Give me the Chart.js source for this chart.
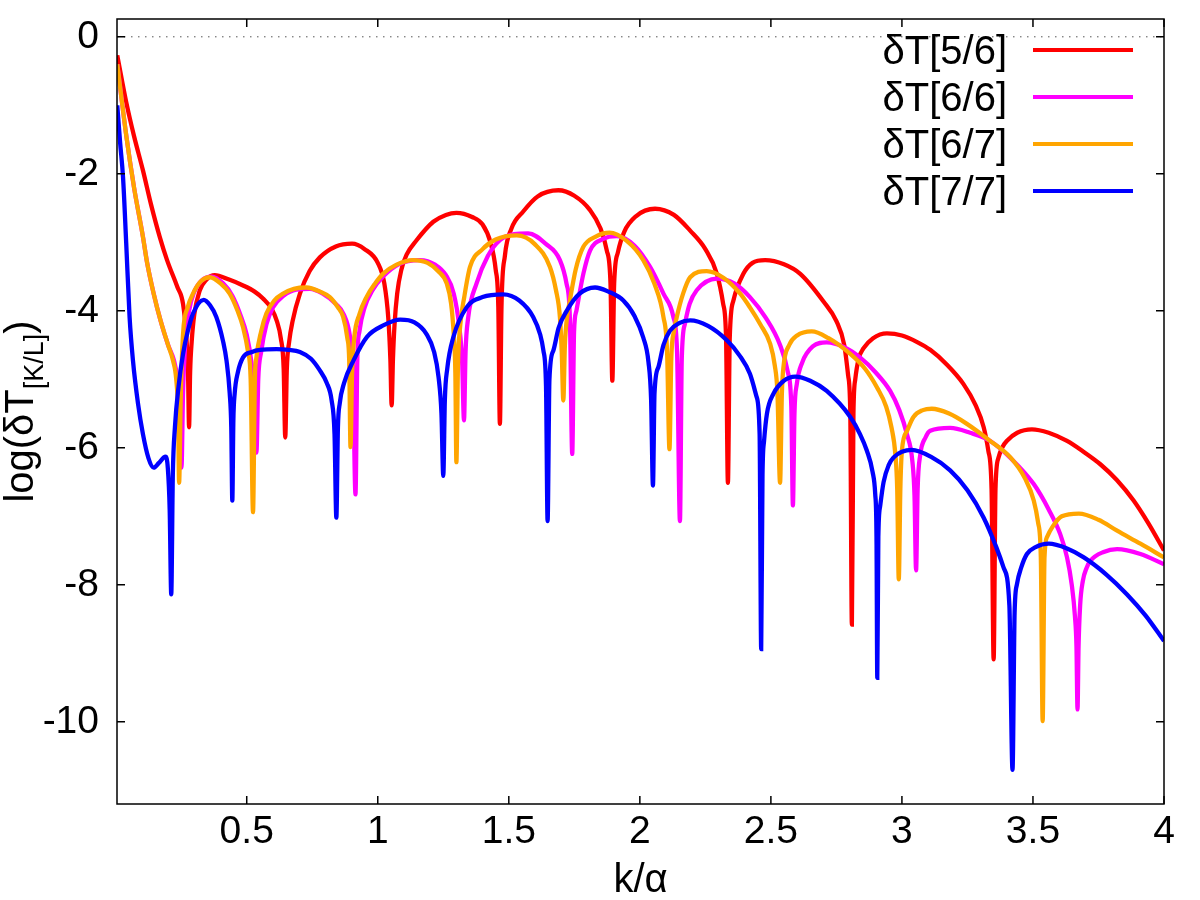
<!DOCTYPE html>
<html lang="en">

<head>
    <meta charset="UTF-8">
    <title>log(dT) vs k/alpha</title>
    <script src="https://cdn.jsdelivr.net/npm/chart.js"></script>
    <style>
        body { margin: 0; background: #fff; }
    </style>
</head>

<body>
    <canvas id="myChart" width="1200" height="900"></canvas>
<script>
    // values, [k/alpha, log(dT)]
    const xTicks = [0.5, 1, 1.5, 2, 2.5, 3, 3.5, 4];
    const yTicks = [0, -2, -4, -6, -8, -10];
    const seriesNames = ['δT[5/6]', 'δT[6/6]', 'δT[6/7]', 'δT[7/7]'];
    const seriesColors = ['#ff0000', '#ff00ff', '#ffa500', '#0000ff'];

    const dT56 = [
        [0.006, -0.27], [0.04, -0.95], [0.07, -1.45], [0.104, -1.95], [0.135, -2.45], [0.168, -2.92],
        [0.196, -3.26], [0.235, -3.65], [0.257, -3.9], [0.27, -4.4], [0.276, -4.9], [0.28, -5.7],
        [0.284, -4.9], [0.29, -4.45], [0.3, -4.05], [0.321, -3.7], [0.345, -3.55], [0.378, -3.48],
        [0.43, -3.54], [0.486, -3.63], [0.53, -3.72], [0.562, -3.82], [0.595, -3.97], [0.614, -4.14],
        [0.63, -4.4], [0.641, -4.85], [0.647, -5.85], [0.653, -4.85], [0.662, -4.45], [0.675, -4.15],
        [0.703, -3.75], [0.74, -3.42], [0.779, -3.22], [0.84, -3.06], [0.902, -3.02], [0.95, -3.1],
        [1.0, -3.3], [1.025, -3.6], [1.04, -4.1], [1.048, -4.7], [1.053, -5.38], [1.058, -4.7],
        [1.064, -4.2], [1.074, -3.75], [1.09, -3.4], [1.11, -3.18], [1.148, -2.97], [1.212, -2.7],
        [1.26, -2.6], [1.3, -2.57], [1.36, -2.63], [1.4, -2.74], [1.43, -3.0], [1.45, -3.4],
        [1.46, -3.95], [1.466, -5.65], [1.472, -3.95], [1.485, -3.2], [1.51, -2.8], [1.555, -2.55],
        [1.61, -2.33], [1.689, -2.24], [1.75, -2.32], [1.81, -2.53], [1.85, -2.8], [1.874, -3.12],
        [1.888, -3.6], [1.895, -5.02], [1.902, -3.6], [1.916, -3.15], [1.94, -2.85], [1.985, -2.62],
        [2.058, -2.51], [2.13, -2.6], [2.192, -2.83], [2.25, -3.1], [2.294, -3.46], [2.318, -3.9],
        [2.329, -4.4], [2.336, -6.51], [2.343, -4.4], [2.357, -3.85], [2.395, -3.46], [2.43, -3.3],
        [2.478, -3.26], [2.55, -3.32], [2.612, -3.46], [2.7, -3.86], [2.75, -4.15], [2.78, -4.5],
        [2.795, -4.95], [2.803, -5.5], [2.809, -8.58], [2.815, -5.5], [2.822, -5.0], [2.835, -4.7],
        [2.853, -4.55], [2.89, -4.4], [2.943, -4.33], [3.0, -4.36], [3.06, -4.46], [3.108, -4.57],
        [3.17, -4.78], [3.235, -5.07], [3.28, -5.37], [3.312, -5.7], [3.33, -6.05], [3.342, -6.6],
        [3.35, -9.09], [3.357, -6.6], [3.368, -6.15], [3.385, -5.98], [3.4, -5.9], [3.44, -5.78],
        [3.496, -5.73], [3.56, -5.78], [3.63, -5.9], [3.69, -6.05], [3.757, -6.24], [3.82, -6.47],
        [3.884, -6.77], [3.94, -7.1], [4.0, -7.5]
    ];

    const dT66 = [
        [0.006, -0.4], [0.041, -1.46], [0.07, -2.2], [0.104, -2.92], [0.12, -3.3], [0.145, -3.75],
        [0.171, -4.14], [0.2, -4.5], [0.222, -4.72], [0.236, -5.0], [0.245, -5.4], [0.251, -6.29],
        [0.257, -5.2], [0.265, -4.5], [0.28, -4.0], [0.3, -3.72], [0.33, -3.55], [0.365, -3.5],
        [0.41, -3.6], [0.445, -3.78], [0.475, -4.05], [0.5, -4.35], [0.518, -4.75], [0.53, -5.2],
        [0.537, -6.07], [0.544, -5.0], [0.555, -4.6], [0.575, -4.2], [0.6, -3.95], [0.64, -3.78],
        [0.69, -3.69], [0.74, -3.68], [0.79, -3.75], [0.84, -3.9], [0.87, -4.05], [0.893, -4.35],
        [0.905, -4.8], [0.915, -6.68], [0.922, -4.7], [0.93, -4.3], [0.95, -3.95], [0.98, -3.7],
        [1.02, -3.5], [1.08, -3.32], [1.16, -3.26], [1.22, -3.33], [1.26, -3.48], [1.29, -3.75],
        [1.31, -4.2], [1.322, -4.75], [1.329, -5.6], [1.335, -4.6], [1.345, -4.1], [1.377, -3.6],
        [1.42, -3.2], [1.466, -2.97], [1.52, -2.88], [1.574, -2.87], [1.64, -3.02], [1.695, -3.26],
        [1.72, -3.6], [1.733, -4.1], [1.742, -6.09], [1.749, -4.3], [1.758, -4.0], [1.765, -3.85],
        [1.785, -3.45], [1.81, -3.12], [1.86, -2.95], [1.912, -2.91], [1.98, -3.05], [2.039, -3.36],
        [2.09, -3.75], [2.128, -4.09], [2.142, -4.6], [2.153, -7.07], [2.16, -4.7], [2.172, -4.19],
        [2.19, -3.9], [2.217, -3.7], [2.294, -3.53], [2.36, -3.6], [2.42, -3.8], [2.48, -4.1],
        [2.535, -4.5], [2.565, -4.9], [2.578, -5.4], [2.584, -6.84], [2.59, -5.5], [2.599, -5.07],
        [2.62, -4.75], [2.66, -4.52], [2.713, -4.46], [2.78, -4.53], [2.84, -4.68], [2.9, -4.9],
        [2.955, -5.17], [2.99, -5.45], [3.019, -5.8], [3.04, -6.2], [3.048, -6.7], [3.054, -7.79],
        [3.06, -6.6], [3.07, -6.1], [3.09, -5.85], [3.108, -5.75], [3.184, -5.71], [3.26, -5.78],
        [3.337, -5.9], [3.42, -6.17], [3.503, -6.53], [3.56, -6.9], [3.604, -7.26], [3.63, -7.6],
        [3.648, -8.0], [3.66, -8.45], [3.666, -8.9], [3.67, -9.82], [3.674, -8.9], [3.68, -8.3],
        [3.69, -7.95], [3.705, -7.75], [3.719, -7.65], [3.77, -7.52], [3.821, -7.48], [3.91, -7.55],
        [4.0, -7.7]
    ];

    const dT67 = [
        [0.006, -0.4], [0.041, -1.46], [0.07, -2.2], [0.104, -2.92], [0.12, -3.3], [0.145, -3.75],
        [0.171, -4.14], [0.2, -4.5], [0.219, -4.73], [0.231, -5.0], [0.238, -5.5], [0.242, -6.51],
        [0.248, -5.3], [0.257, -4.34], [0.275, -3.95], [0.295, -3.75], [0.325, -3.57], [0.359, -3.51],
        [0.4, -3.6], [0.435, -3.75], [0.465, -4.0], [0.486, -4.24], [0.505, -4.6], [0.515, -5.0],
        [0.524, -6.94], [0.531, -5.0], [0.537, -4.68], [0.555, -4.3], [0.575, -4.04], [0.605, -3.85],
        [0.639, -3.75], [0.68, -3.68], [0.728, -3.66], [0.78, -3.72], [0.817, -3.8], [0.848, -3.95],
        [0.868, -4.09], [0.884, -4.4], [0.891, -4.73], [0.896, -5.99], [0.902, -4.9], [0.91, -4.4],
        [0.93, -4.05], [0.957, -3.8], [0.99, -3.6], [1.02, -3.46], [1.07, -3.33], [1.135, -3.26],
        [1.19, -3.3], [1.23, -3.42], [1.263, -3.6], [1.28, -3.9], [1.29, -4.35], [1.296, -4.9],
        [1.3, -6.21], [1.306, -4.8], [1.315, -4.2], [1.33, -3.8], [1.352, -3.36], [1.4, -3.1],
        [1.45, -2.96], [1.53, -2.9], [1.6, -3.03], [1.657, -3.36], [1.68, -3.7], [1.695, -4.09],
        [1.702, -4.6], [1.708, -5.31], [1.714, -4.5], [1.722, -4.1], [1.733, -3.85], [1.755, -3.4],
        [1.784, -3.07], [1.83, -2.92], [1.884, -2.86], [1.95, -2.98], [2.013, -3.26], [2.055, -3.6],
        [2.09, -4.09], [2.104, -4.6], [2.113, -6.02], [2.12, -4.7], [2.13, -4.3], [2.141, -4.09],
        [2.165, -3.75], [2.192, -3.51], [2.255, -3.42], [2.32, -3.52], [2.383, -3.75], [2.42, -3.95],
        [2.46, -4.2], [2.497, -4.48], [2.515, -4.8], [2.525, -5.2], [2.535, -6.51], [2.542, -5.2],
        [2.548, -4.82], [2.57, -4.5], [2.6, -4.36], [2.656, -4.3], [2.72, -4.4], [2.803, -4.63],
        [2.86, -4.85], [2.905, -5.12], [2.94, -5.4], [2.96, -5.7], [2.975, -6.1], [2.982, -6.6],
        [2.988, -7.92], [2.994, -6.6], [3.0, -6.04], [3.02, -5.75], [3.044, -5.55], [3.08, -5.45],
        [3.114, -5.43], [3.18, -5.5], [3.248, -5.65], [3.33, -5.88], [3.414, -6.14], [3.47, -6.45],
        [3.503, -6.77], [3.52, -7.1], [3.53, -7.6], [3.537, -9.99], [3.544, -7.6], [3.554, -7.3],
        [3.575, -7.15], [3.61, -7.0], [3.675, -6.96], [3.75, -7.05], [3.821, -7.21], [3.91, -7.4],
        [4.0, -7.6]
    ];

    const dT77 = [
        [0.006, -1.0], [0.017, -1.55], [0.028, -2.05], [0.04, -3.0], [0.053, -4.09], [0.066, -4.73],
        [0.085, -5.35], [0.104, -5.8], [0.125, -6.15], [0.145, -6.29], [0.165, -6.22], [0.19, -6.13],
        [0.199, -6.3], [0.206, -6.9], [0.212, -8.14], [0.218, -6.4], [0.226, -5.7], [0.24, -5.1],
        [0.257, -4.63], [0.275, -4.3], [0.295, -4.04], [0.336, -3.84], [0.36, -3.92], [0.384, -4.09],
        [0.41, -4.45], [0.423, -4.73], [0.435, -5.2], [0.441, -5.7], [0.445, -6.77], [0.449, -5.6],
        [0.454, -5.21], [0.466, -4.9], [0.486, -4.68], [0.52, -4.6], [0.55, -4.57], [0.614, -4.56],
        [0.66, -4.57], [0.703, -4.6], [0.745, -4.7], [0.779, -4.87], [0.805, -5.05], [0.824, -5.31],
        [0.835, -5.8], [0.842, -7.02], [0.848, -5.7], [0.855, -5.35], [0.871, -5.06], [0.908, -4.72],
        [0.959, -4.38], [1.023, -4.21], [1.086, -4.13], [1.14, -4.17], [1.186, -4.34], [1.215, -4.6],
        [1.232, -4.97], [1.243, -5.5], [1.25, -6.41], [1.256, -5.3], [1.265, -4.85], [1.288, -4.39],
        [1.339, -3.95], [1.4, -3.8], [1.479, -3.76], [1.54, -3.85], [1.593, -4.09], [1.62, -4.35],
        [1.632, -4.58], [1.642, -5.1], [1.648, -7.07], [1.655, -5.0], [1.67, -4.58], [1.69, -4.25],
        [1.721, -4.0], [1.77, -3.75], [1.829, -3.66], [1.88, -3.72], [1.937, -3.85], [1.98, -4.08],
        [2.013, -4.39], [2.033, -4.75], [2.043, -5.3], [2.05, -6.55], [2.056, -5.2], [2.071, -4.82],
        [2.09, -4.5], [2.115, -4.29], [2.15, -4.18], [2.192, -4.14], [2.26, -4.22], [2.332, -4.43],
        [2.38, -4.65], [2.42, -4.92], [2.445, -5.25], [2.457, -5.8], [2.463, -8.94], [2.468, -6.4],
        [2.474, -5.9], [2.485, -5.5], [2.51, -5.21], [2.55, -5.02], [2.593, -4.96], [2.65, -5.02],
        [2.713, -5.17], [2.803, -5.55], [2.84, -5.8], [2.866, -6.04], [2.888, -6.35], [2.898, -6.67],
        [2.903, -7.3], [2.906, -9.36], [2.91, -7.3], [2.917, -6.85], [2.93, -6.5], [2.95, -6.25],
        [2.968, -6.14], [3.038, -6.03], [3.11, -6.13], [3.184, -6.33], [3.25, -6.62], [3.312, -7.02],
        [3.36, -7.45], [3.388, -7.75], [3.41, -8.3], [3.422, -10.7], [3.43, -8.4], [3.439, -7.99],
        [3.455, -7.75], [3.477, -7.55], [3.51, -7.45], [3.56, -7.4], [3.63, -7.47], [3.694, -7.6],
        [3.78, -7.85], [3.859, -8.14], [3.93, -8.45], [4.0, -8.82]
    ];

    const FONT = '"Liberation Sans", Arial, sans-serif';
    const seriesData = [dT56, dT66, dT67, dT77];

    // gnuplot-like frame: box, inward ticks on all four sides, dotted zero axis, key and titles
    const framePlugin = {
        id: 'framePlugin',
        beforeDatasetsDraw(chart) {
            const { ctx, chartArea: a, scales: { y } } = chart;
            const y0 = y.getPixelForValue(0);
            ctx.save();
            ctx.strokeStyle = '#555';
            ctx.lineWidth = 1;
            ctx.setLineDash([1.5, 5.5]);
            ctx.beginPath();
            ctx.moveTo(a.left, y0);
            ctx.lineTo(a.right, y0);
            ctx.stroke();
            ctx.restore();
        },
        afterDatasetsDraw(chart) {
            const { ctx, chartArea: a, scales: { x, y } } = chart;
            const tl = 8;
            ctx.save();
            ctx.strokeStyle = '#000';
            ctx.lineWidth = 1.5;
            ctx.strokeRect(a.left, a.top, a.right - a.left, a.bottom - a.top);
            ctx.beginPath();
            xTicks.forEach(v => {
                const px = x.getPixelForValue(v);
                ctx.moveTo(px, a.bottom); ctx.lineTo(px, a.bottom - tl);
                ctx.moveTo(px, a.top); ctx.lineTo(px, a.top + tl);
            });
            yTicks.forEach(v => {
                const py = y.getPixelForValue(v);
                ctx.moveTo(a.left, py); ctx.lineTo(a.left + tl, py);
                ctx.moveTo(a.right, py); ctx.lineTo(a.right - tl, py);
            });
            ctx.stroke();

            // key
            ctx.fillStyle = '#000';
            ctx.font = '40px ' + FONT;
            ctx.textAlign = 'right';
            ctx.textBaseline = 'alphabetic';
            seriesNames.forEach((name, i) => {
                const rowY = a.top + 31 + i * 47;
                ctx.fillText(name, a.right - 157, rowY + 14);
                ctx.strokeStyle = seriesColors[i];
                ctx.lineWidth = 4;
                ctx.beginPath();
                ctx.moveTo(a.right - 131, rowY);
                ctx.lineTo(a.right - 31, rowY);
                ctx.stroke();
            });

            // x title
            ctx.textAlign = 'center';
            ctx.fillText('k/α', (a.left + a.right) / 2, 892);

            // y title with subscript
            const main1 = 'log(δT', sub = '[K/L]', main2 = ')';
            ctx.font = '40px ' + FONT;
            const w1 = ctx.measureText(main1).width, w3 = ctx.measureText(main2).width;
            ctx.font = '27px ' + FONT;
            const w2 = ctx.measureText(sub).width;
            ctx.translate(33, (a.top + a.bottom) / 2);
            ctx.rotate(-Math.PI / 2);
            ctx.textAlign = 'left';
            let cx = -(w1 + w2 + w3) / 2;
            ctx.font = '40px ' + FONT;
            ctx.fillText(main1, cx, 0);
            cx += w1;
            ctx.font = '27px ' + FONT;
            ctx.fillText(sub, cx, 10);
            cx += w2;
            ctx.font = '40px ' + FONT;
            ctx.fillText(main2, cx, 0);
            ctx.restore();
        }
    };

    const config = {
        type: 'line',
        data: {
            datasets: seriesData.map((pairs, i) => ({
                label: seriesNames[i],
                data: pairs.map(p => ({ x: p[0], y: p[1] })),
                borderColor: seriesColors[i],
                borderWidth: 4.3,
                pointRadius: 0,
                fill: false,
                cubicInterpolationMode: 'monotone',
                order: 4 - i
            }))
        },
        options: {
            responsive: false,
            animation: false,
            layout: { padding: { top: 19, right: 36, left: 0, bottom: 0 } },
            plugins: {
                legend: { display: false },
                tooltip: { enabled: false }
            },
            scales: {
                x: {
                    type: 'linear',
                    min: 0.005,
                    max: 4,
                    afterBuildTicks: s => { s.ticks = xTicks.map(v => ({ value: v })); },
                    afterFit: s => { s.height = 96; s.paddingLeft = 0; s.paddingRight = 0; },
                    grid: { display: false },
                    border: { display: false },
                    ticks: {
                        autoSkip: false,
                        maxRotation: 0,
                        padding: -3,
                        color: '#000',
                        font: { family: FONT, size: 39 },
                        callback: v => String(v)
                    }
                },
                y: {
                    type: 'linear',
                    min: -11.2,
                    max: 0.26,
                    afterBuildTicks: s => { s.ticks = yTicks.map(v => ({ value: v })); },
                    afterFit: s => { s.width = 117; s.paddingTop = 0; s.paddingBottom = 0; },
                    grid: { display: false },
                    border: { display: false },
                    ticks: {
                        autoSkip: false,
                        padding: 10,
                        color: '#000',
                        font: { family: FONT, size: 39 },
                        callback: v => String(v)
                    }
                }
            }
        },
        plugins: [framePlugin]
    };

    const myChart = new Chart(document.getElementById('myChart'), config);
</script>
</body>

</html>
